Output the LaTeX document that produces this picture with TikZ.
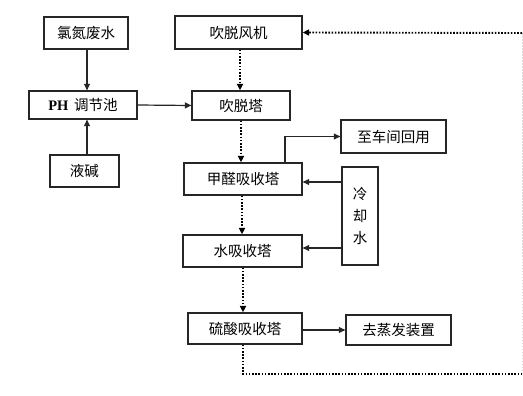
\documentclass[tikz,border=0pt]{standalone}
\usepackage{fontspec}
\setmainfont{Liberation Serif}
\newfontfamily\cjk{Noto Sans CJK SC}
\usetikzlibrary{arrows.meta}
\begin{document}
\begin{tikzpicture}[x=1pt,y=-1pt,
  box/.style={draw=black!85,line width=1.3pt,inner sep=0pt,font=\cjk\fontsize{14.5}{16}\selectfont},
  arr/.style={draw=black!85,line width=1.2pt,-{Triangle[length=6.5pt,width=6pt]}},
  dots/.style={draw=black,line width=1.9pt,dash pattern=on 1.6pt off 1.6pt},
  darr/.style={dots,-{Triangle[length=6.5pt,width=6pt]}}]
\useasboundingbox[fill=white] (0,0) rectangle (523,396);
\node[box,minimum width=84pt,minimum height=32pt] (ww) at (86,33) {氯氮废水};
\node[box,minimum width=127pt,minimum height=33pt] (fan) at (238.5,32.5) {吹脱风机};
\node[box,minimum width=108pt,minimum height=28pt] (ph) at (83,105) {{\fontspec{Liberation Serif}\bfseries\fontsize{14.5}{16}\selectfont PH}\, 调节池};
\node[box,minimum width=98pt,minimum height=29pt] (strip) at (241,105.5) {吹脱塔};
\node[box,minimum width=69pt,minimum height=32pt] (alk) at (84.5,171) {液碱};
\node[box,minimum width=118pt,minimum height=32pt] (form) at (243,179) {甲醛吸收塔};
\node[box,minimum width=119pt,minimum height=32pt] (water) at (242.5,251) {水吸收塔};
\node[box,minimum width=114pt,minimum height=31pt] (acid) at (245,328.5) {硫酸吸收塔};
\node[box,minimum width=105pt,minimum height=33pt] (reuse) at (393.5,136.5) {至车间回用};
\node[box,minimum width=36pt,minimum height=98pt,align=center] (cool) at (360,216) {冷\\[6pt]却\\[6pt]水};
\node[box,minimum width=105pt,minimum height=30pt] (evap) at (398.5,330) {去蒸发装置};
\coordinate (c1) at (243,374);
\coordinate (c2) at (522,374);
\coordinate (c3) at (522,33);
% solid connectors
\draw[arr] (ww.south -| 87,0) -- (ph.north -| 87,0);
\draw[arr] (alk.north -| 87,0) -- (ph.south -| 87,0);
\draw[arr] (ph.east) -- (strip.west);
\draw[arr] ([xshift=42pt]form.north) |- (reuse.west);
\draw[arr] (cool.west |- 0,182) -- (form.east |- 0,182);
\draw[arr] (cool.west |- 0,248) -- (water.east |- 0,248);
\draw[arr] (acid.east |- evap.west) -- (evap.west);
% dotted gas flow
\draw[darr] (fan.south -| 240,0) -- (strip.north -| 240,0);
\draw[darr] (strip.south -| 241,0) -- (form.north -| 241,0);
\draw[darr] (form.south -| 242,0) -- (water.north -| 242,0);
\draw[darr] (water.south -| 243,0) -- (acid.north -| 243,0);
\draw[dots] (acid.south -| c1) -- (c1) -- (c2);
\draw[draw=black!15,line width=1pt,dash pattern=on 1.5pt off 1.5pt] (c2) -- (c3);
\draw[darr] (c3) -- (fan.east);
\end{tikzpicture}
\end{document}
